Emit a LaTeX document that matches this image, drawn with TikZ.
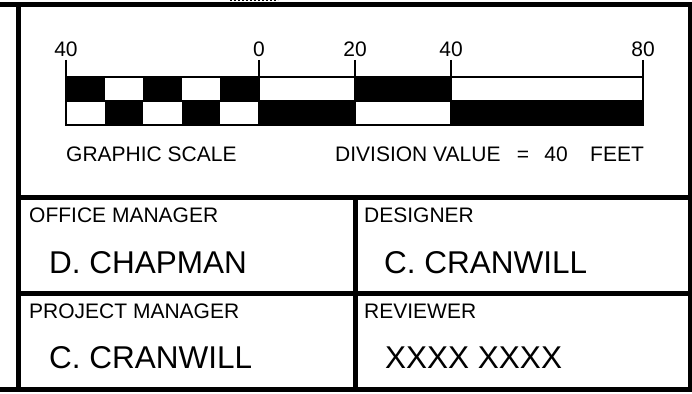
\documentclass[tikz,border=0pt]{standalone}
\usepackage{fontspec}
\setmainfont{Liberation Sans}
\usetikzlibrary{calc}
\begin{document}
\begin{tikzpicture}[x=1pt,y=-1pt,
    frame/.style={line width=5pt},
    barline/.style={line width=1.5pt},
    small/.style={inner sep=0pt,anchor=base west,font=\fontsize{21}{25}\selectfont},
    big/.style={inner sep=0pt,anchor=base west,font=\fontsize{31.5}{36}\selectfont},
    num/.style={inner sep=0pt,anchor=base,font=\fontsize{21}{25}\selectfont}]

    \useasboundingbox (0,0) rectangle (692,393);

    % --- Define Coordinates ---
    % Ticks of the graphic scale
    \coordinate (SL) at (66,77);
    \coordinate (S0) at (259,77);
    \coordinate (S20) at (355,77);
    \coordinate (S40) at (451,77);
    \coordinate (S80) at (643,77);

    % --- Draw Frame ---
    % Outer border and left rule
    \draw[frame] (0,4.5) -- (690,4.5) -- (690,389) -- (0,389);
    \draw[frame] (18.5,4.5) -- (18.5,389);

    % Rows and column of the signature boxes
    \draw[frame] (18.5,197.5) -- (690,197.5);
    \draw[frame] (18.5,293) -- (690,293);
    \draw[frame] (355,197.5) -- (355,389);

    % Clipped marks above the top rule
    \draw[line width=1pt,dash pattern=on 2pt off 2pt] (230,0.8) -- (278,0.8);

    % --- Draw Scale Bar ---
    % Checkered part left of zero
    \foreach \i in {0,2,4}
        \fill ($(SL)+(38.6*\i,0)$) rectangle ++(38.6,24);
    \foreach \i in {1,3}
        \fill ($(SL)+(38.6*\i,24)$) rectangle ++(38.6,24);

    % Blocks right of zero
    \fill ($(S0)+(0,24)$) rectangle ($(S20)+(0,48)$);
    \fill (S20) rectangle ($(S40)+(0,24)$);
    \fill ($(S40)+(0,24)$) rectangle ($(S80)+(0,48)$);

    % Outline and ticks
    \draw[barline] (SL) rectangle ($(S80)+(0,48)$);
    \draw[barline] ($(SL)+(0,24)$) -- ($(S80)+(0,24)$);
    \foreach \t in {SL,S0,S20,S40,S80}
        \draw[barline] ($(\t)+(0,-17)$) -- ($(\t)+(0,48)$);

    % --- Place Labels ---
    % Numbers above the ticks
    \node[num] (nL) at ($(SL)+(0,-20)$) {40};
    \node[num] (n0) at ($(S0)+(0,-20)$) {0};
    \node[num] (n20) at ($(S20)+(0,-20)$) {20};
    \node[num] (n40) at ($(S40)+(0,-20)$) {40};
    \node[num] (n80) at ($(S80)+(0,-20)$) {80};

    % Scale captions
    \node[small] (graphic) at (66,161) {GRAPHIC SCALE};
    \node[small] (division) at (335,161) {DIVISION VALUE};
    \node[num] (equals) at (523,161) {=};
    \node[num] (value) at (556,161) {40};
    \node[small] (feet) at (590,161) {FEET};

    % Signature boxes
    \node[small] (office) at (29,222) {OFFICE MANAGER};
    \node[big] (officename) at (49,273) {D. CHAPMAN};
    \node[small] (designer) at (364,222) {DESIGNER};
    \node[big] (designername) at (384,273) {C. CRANWILL};
    \node[small] (project) at (29,318) {PROJECT MANAGER};
    \node[big] (projectname) at (49,368) {C. CRANWILL};
    \node[small] (reviewer) at (364,318) {REVIEWER};
    \node[big] (reviewername) at (385,368) {XXXX XXXX};

\end{tikzpicture}
\end{document}
